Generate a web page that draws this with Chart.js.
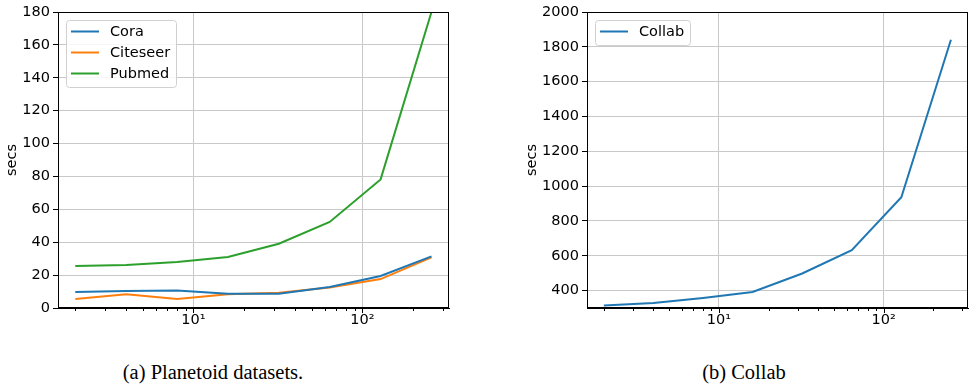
<!DOCTYPE html>
<html>
<head>
<meta charset="utf-8">
<title>Training time</title>
<script src="https://cdn.jsdelivr.net/npm/chart.js@4.4.1/dist/chart.umd.min.js"></script>
<style>
  body { margin: 0; background: #fff; width: 969px; height: 386px; position: relative; overflow: hidden; }
  .plot { position: absolute; top: 0; }
  .caption {
    position: absolute; top: 361px; font-family: "Liberation Serif", "Times New Roman", serif;
    font-size: 20.5px; color: #000; text-align: center; white-space: nowrap;
  }
</style>
</head>
<body>
<div class="plot" style="left:0"><canvas id="planetoid" width="460" height="340"></canvas></div>
<div class="plot" style="left:510px"><canvas id="collab" width="459" height="340"></canvas></div>
<div class="caption" style="left:113px;width:200px">(a) Planetoid datasets.</div>
<div class="caption" style="left:644px;width:200px">(b) Collab</div>

<script>
// x values (log axis) and measured seconds per run
const sizes = [2, 4, 8, 16, 32, 64, 128, 256];
const coraSecs = [9.7, 10.3, 10.7, 8.7, 8.7, 12.8, 19.5, 31.4];
const citeseerSecs = [5.5, 8.3, 5.5, 8.3, 9.3, 12.4, 17.6, 30.8];
const pubmedSecs = [25.5, 26.1, 28.0, 31.0, 39.1, 52.3, 78.2, 180];
const collabSecs = [314, 329, 358, 392, 498, 632, 936, 1841];

// axis ticks
const xMajorTicks = [10, 100];
const xTickLabels = ['10\u00b9', '10\u00b2'];
const xMinorTicks = [2, 3, 4, 5, 6, 7, 8, 9, 20, 30, 40, 50, 60, 70, 80, 90, 200, 300];
const planetoidYTicks = [0, 20, 40, 60, 80, 100, 120, 140, 160, 180];
const collabYTicks = [400, 600, 800, 1000, 1200, 1400, 1600, 1800, 2000];

const BLUE = '#1f77b4', ORANGE = '#ff7f0e', GREEN = '#2ca02c';
const GRID = '#c9c9c9';
const FONT = { family: '"DejaVu Sans", Verdana, sans-serif', size: 14.5 };

function series(label, ys, color) {
  return {
    label: label,
    data: sizes.map((x, i) => ({ x: x, y: ys[i] })),
    borderColor: color,
    backgroundColor: color,
    borderWidth: 2,
    pointRadius: 0,
    tension: 0,
    fill: false
  };
}

// frame on all four sides, x minor ticks and a boxed legend inside the axes
const decorPlugin = {
  id: 'decor',
  afterDraw(chart) {
    const ctx = chart.ctx;
    const a = chart.chartArea;
    const xs = chart.scales.x;
    ctx.save();
    ctx.strokeStyle = '#000';
    ctx.lineWidth = 1;
    ctx.strokeRect(Math.round(a.left) + 0.5, Math.round(a.top) + 0.5,
      Math.round(a.right - a.left) - 1, Math.round(a.bottom - a.top) - 1);

    const bottom = Math.round(a.bottom);
    ctx.beginPath();
    xMajorTicks.concat(xMinorTicks).forEach(v => {
      if (v < xs.min || v > xs.max) return;
      const px = Math.round(xs.getPixelForValue(v)) + 0.5;
      const len = xMajorTicks.includes(v) ? 5 : 3;
      ctx.moveTo(px, bottom);
      ctx.lineTo(px, bottom + len);
    });
    ctx.stroke();

    // legend
    const sets = chart.data.datasets;
    ctx.font = FONT.size + 'px ' + FONT.family;
    const textW = Math.max(...sets.map(d => ctx.measureText(d.label).width));
    const pad = 5.5, handle = 28, gap = 11, rowH = 21;
    const bx = a.left + 7.5, by = a.top + 8;
    const bw = pad + handle + gap + textW + pad;
    const bh = sets.length * rowH + 4;
    ctx.beginPath();
    ctx.roundRect(Math.round(bx) + 0.5, Math.round(by) + 0.5, Math.round(bw), Math.round(bh), 3);
    ctx.fillStyle = 'rgba(255,255,255,0.85)';
    ctx.fill();
    ctx.strokeStyle = '#d0d0d0';
    ctx.stroke();
    ctx.textBaseline = 'middle';
    sets.forEach((d, i) => {
      const cy = by + 11.5 + i * rowH;
      ctx.strokeStyle = d.borderColor;
      ctx.lineWidth = 2;
      ctx.beginPath();
      ctx.moveTo(bx + pad, cy);
      ctx.lineTo(bx + pad + handle, cy);
      ctx.stroke();
      ctx.fillStyle = '#000';
      ctx.fillText(d.label, bx + pad + handle + gap, cy + 1);
    });
    ctx.restore();
  }
};

function makeChart(id, datasets, cfg) {
  return new Chart(document.getElementById(id), {
    type: 'line',
    data: { datasets: datasets },
    plugins: [decorPlugin],
    options: {
      responsive: false,
      animation: false,
      devicePixelRatio: 1,
      layout: { padding: { left: cfg.padLeft, right: cfg.padRight, top: 12, bottom: 0 } },
      plugins: { legend: { display: false }, tooltip: { enabled: false } },
      scales: {
        x: {
          type: 'logarithmic',
          min: 1.58,
          max: 325,
          afterBuildTicks: scale => {
            scale.ticks = xMinorTicks.concat(xMajorTicks).sort((p, q) => p - q).map(v => ({ value: v }));
          },
          afterFit: scale => { scale.height = 32; },
          grid: {
            drawTicks: false,
            lineWidth: 1,
            color: c => (c.tick && xMajorTicks.includes(c.tick.value)) ? GRID : 'rgba(0,0,0,0)'
          },
          border: { display: true, color: '#000', width: 1 },
          ticks: {
            autoSkip: false,
            maxRotation: 0,
            padding: 4,
            color: '#000',
            font: FONT,
            callback: v => {
              const i = xMajorTicks.indexOf(v);
              return i >= 0 ? xTickLabels[i] : '';
            }
          }
        },
        y: {
          min: cfg.yMin,
          max: cfg.yMax,
          afterBuildTicks: scale => { scale.ticks = cfg.yTicks.map(v => ({ value: v })); },
          afterFit: scale => { scale.width = cfg.yWidth; },
          grid: { color: GRID, lineWidth: 1, tickLength: 5, tickColor: '#000' },
          border: { display: true, color: '#000', width: 1 },
          ticks: { padding: 3, color: '#000', font: FONT, callback: v => String(v) },
          title: { display: true, text: 'secs', color: '#000', font: FONT, padding: { top: 4, bottom: 0 } }
        }
      }
    }
  });
}

makeChart('planetoid', [
  series('Cora', coraSecs, BLUE),
  series('Citeseer', citeseerSecs, ORANGE),
  series('Pubmed', pubmedSecs, GREEN)
], { yMin: 0, yMax: 180, yTicks: planetoidYTicks, yWidth: 58, padLeft: 0, padRight: 11 });

makeChart('collab', [
  series('Collab', collabSecs, BLUE)
], { yMin: 300, yMax: 2000, yTicks: collabYTicks, yWidth: 67, padLeft: 10, padRight: 1 });
</script>
</body>
</html>
